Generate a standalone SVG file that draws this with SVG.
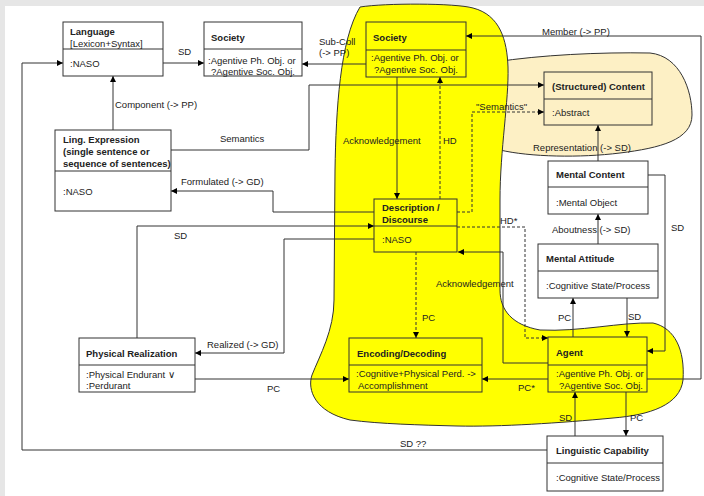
<svg xmlns="http://www.w3.org/2000/svg" width="704" height="496" viewBox="0 0 704 496">
<style>
.bx{stroke:#333;stroke-width:1}
.w{fill:#fff}
.y{fill:#ffff00}
.t{fill:#fdf0c5}
text{font-family:"Liberation Sans",Arial,sans-serif;font-size:9.5px;fill:#222}
.b{font-weight:bold}
.c{fill:none;stroke:#333;stroke-width:1}
.d{stroke-dasharray:3,2}
</style>
<defs>
<marker id="a" viewBox="0 0 8 8" refX="8" refY="4" markerWidth="7" markerHeight="6" orient="auto" markerUnits="userSpaceOnUse">
<path d="M0,0 L8,4 L0,8 z" fill="#000"/>
</marker>
</defs>
<rect x="0" y="0" width="704" height="496" fill="#e6e6e6"/>
<rect x="5" y="6" width="699" height="490" fill="#fff"/>
<g id="regions">
<path d="M495,62 C540,55 600,52 650,53 C680,56 692,90 692,115 C692,140 660,148 620,153 C580,158 530,157 500,150 Z" fill="#fdf0c5" stroke="#333" stroke-width="1"/>
<path d="M360,7 C385,3 455,3 473,8 C500,15 507,40 508,67 C509,100 500,150 500,200 L500,290 C500,310 512,325 540,330 C580,332 620,322 653,323 C675,328 685,350 683,380 C680,405 650,415 613,418 C560,423 500,427 457,426 C420,425 380,424 350,420 C315,412 307,390 312,375 C320,355 334,330 334,300 L335,170 C336,110 340,40 360,7 Z" fill="#ffff00" stroke="#333" stroke-width="1"/>
</g>
<g id="connectors">
<path class="c" d="M163,63 L204,63" marker-end="url(#a)"/>
<path class="c" d="M366,64 L302,64" marker-end="url(#a)"/>
<path class="c" d="M113,130 L113,76" marker-end="url(#a)"/>
<path class="c" d="M171,150 L309,150 L309,85 L544,85" marker-end="url(#a)"/>
<path class="c" d="M374,212 L273,212 L273,191 L171,191" marker-end="url(#a)"/>
<path class="c" d="M547,450 L22,450 L22,63 L63,63" marker-end="url(#a)"/>
<path class="c" d="M647,379 L701,379 L701,36 L466,36" marker-end="url(#a)"/>
<path class="c" d="M397,77 L397,199" marker-end="url(#a)"/>
<path class="c d" d="M440,199 L440,77" marker-end="url(#a)"/>
<path class="c d" d="M457,212 L472,212 L472,112 L544,112" marker-end="url(#a)"/>
<path class="c d" d="M457,227 L525,227 L525,338 L548,338" marker-end="url(#a)"/>
<path class="c" d="M548,363 L503,363 L503,252 L458,252" marker-end="url(#a)"/>
<path class="c d" d="M416,252 L416,338" marker-end="url(#a)"/>
<path class="c" d="M137,338 L137,226 L374,226" marker-end="url(#a)"/>
<path class="c" d="M374,239 L284,239 L284,353 L195,353" marker-end="url(#a)"/>
<path class="c" d="M195,379 L349,379" marker-end="url(#a)"/>
<path class="c" d="M548,379 L482,379" marker-end="url(#a)"/>
<path class="c" d="M598,161 L598,125" marker-end="url(#a)"/>
<path class="c" d="M598,244 L598,214" marker-end="url(#a)"/>
<path class="c" d="M648,175 L665,175 L665,351 L647,351" marker-end="url(#a)"/>
<path class="c" d="M573,337 L573,298" marker-end="url(#a)"/>
<path class="c" d="M627,298 L627,337" marker-end="url(#a)"/>
<path class="c" d="M575,436 L575,392" marker-end="url(#a)"/>
<path class="c" d="M626,392 L626,436" marker-end="url(#a)"/>
<text x="178" y="54.5">SD</text>
<text x="319" y="44.5">Sub-Coll</text>
<text x="319" y="56">(-&gt; PP)</text>
<text x="115" y="107.5">Component (-&gt; PP)</text>
<text x="220" y="141.5">Semantics</text>
<text x="181" y="184.5">Formulated (-&gt; GD)</text>
<text x="542" y="34.5">Member (-&gt; PP)</text>
<text x="343" y="143.5">Acknowledgement</text>
<text x="443" y="143.5">HD</text>
<text x="476" y="109.5">"Semantics"</text>
<text x="533" y="150.5">Representation (-&gt; SD)</text>
<text x="671" y="230.5">SD</text>
<text x="552" y="232.5">Aboutness (-&gt; SD)</text>
<text x="558" y="320.5">PC</text>
<text x="628" y="319.5">SD</text>
<text x="500" y="223.5">HD*</text>
<text x="436" y="286.5">Acknowledgement</text>
<text x="422" y="320.5">PC</text>
<text x="518" y="390.5">PC*</text>
<text x="559" y="420.5">SD</text>
<text x="630" y="420.5">PC</text>
<text x="400" y="446.5">SD ??</text>
<text x="174" y="238.5">SD</text>
<text x="207" y="347.5">Realized (-&gt; GD)</text>
<text x="267" y="391.5">PC</text>
</g>
<g id="language">
<rect class="bx w" x="63" y="22" width="100" height="54"/>
<line class="bx" x1="63" y1="49" x2="163" y2="49"/>
<text class="b" x="70" y="35">Language</text>
<text x="70" y="46.5">[Lexicon+Syntax]</text>
<text x="70" y="66.5">:NASO</text>
</g>
<g id="society-left">
<rect class="bx w" x="204" y="22" width="98" height="54"/>
<line class="bx" x1="204" y1="49" x2="302" y2="49"/>
<text class="b" x="211" y="40.5">Society</text>
<text x="208" y="63.5">:Agentive Ph. Obj. or</text>
<text x="211" y="74.5">?Agentive Soc. Obj.</text>
</g>
<g id="society-yellow">
<rect class="bx y" x="366" y="22" width="100" height="55"/>
<line class="bx" x1="366" y1="50" x2="466" y2="50"/>
<text class="b" x="373" y="40.5">Society</text>
<text x="371" y="60.5">:Agentive Ph. Obj. or</text>
<text x="374" y="72.5">?Agentive Soc. Obj.</text>
</g>
<g id="ling-expression">
<rect class="bx w" x="55" y="130" width="116" height="81"/>
<line class="bx" x1="55" y1="171" x2="171" y2="171"/>
<text class="b" x="63" y="142.5">Ling. Expression</text>
<text class="b" x="63" y="154.5">(single sentence or</text>
<text class="b" x="63" y="166.5">sequence of sentences)</text>
<text x="63" y="194.5">:NASO</text>
</g>
<g id="structured-content">
<rect class="bx t" x="544" y="72" width="108" height="53"/>
<line class="bx" x1="544" y1="99" x2="652" y2="99"/>
<text class="b" x="552" y="89.5">(Structured) Content</text>
<text x="552" y="115.5">:Abstract</text>
</g>
<g id="mental-content">
<rect class="bx w" x="548" y="161" width="100" height="53"/>
<line class="bx" x1="548" y1="187" x2="648" y2="187"/>
<text class="b" x="556" y="177.5">Mental Content</text>
<text x="556" y="205.5">:Mental Object</text>
</g>
<g id="description">
<rect class="bx y" x="374" y="199" width="83" height="53"/>
<line class="bx" x1="374" y1="226" x2="457" y2="226"/>
<text class="b" x="382" y="210.5">Description /</text>
<text class="b" x="382" y="222.5">Discourse</text>
<text x="382" y="242.5">:NASO</text>
</g>
<g id="mental-attitude">
<rect class="bx w" x="538" y="244" width="120" height="54"/>
<line class="bx" x1="538" y1="271" x2="658" y2="271"/>
<text class="b" x="546" y="261.5">Mental Attitude</text>
<text x="546" y="288.5">:Cognitive State/Process</text>
</g>
<g id="physical-realization">
<rect class="bx w" x="79" y="338" width="116" height="54"/>
<line class="bx" x1="79" y1="365" x2="195" y2="365"/>
<text class="b" x="86" y="356.5">Physical Realization</text>
<text x="86" y="377.5">:Physical Endurant  ∨</text>
<text x="86" y="388.5">:Perdurant</text>
</g>
<g id="encoding">
<rect class="bx y" x="349" y="338" width="133" height="54"/>
<line class="bx" x1="349" y1="365" x2="482" y2="365"/>
<text class="b" x="357" y="356.5">Encoding/Decoding</text>
<text x="356" y="376.5">:Cognitive+Physical Perd. -&gt;</text>
<text x="358" y="388.5">Accomplishment</text>
</g>
<g id="agent">
<rect class="bx y" x="548" y="337" width="99" height="55"/>
<line class="bx" x1="548" y1="365" x2="647" y2="365"/>
<text class="b" x="556" y="355.5">Agent</text>
<text x="556" y="376.5">:Agentive Ph. Obj. or</text>
<text x="559" y="388.5">?Agentive Soc. Obj.</text>
</g>
<g id="linguistic-capability">
<rect class="bx w" x="547" y="436" width="116" height="55"/>
<line class="bx" x1="547" y1="463" x2="663" y2="463"/>
<text class="b" x="556" y="453.5">Linguistic Capability</text>
<text x="556" y="480.5">:Cognitive State/Process</text>
</g>
</svg>
